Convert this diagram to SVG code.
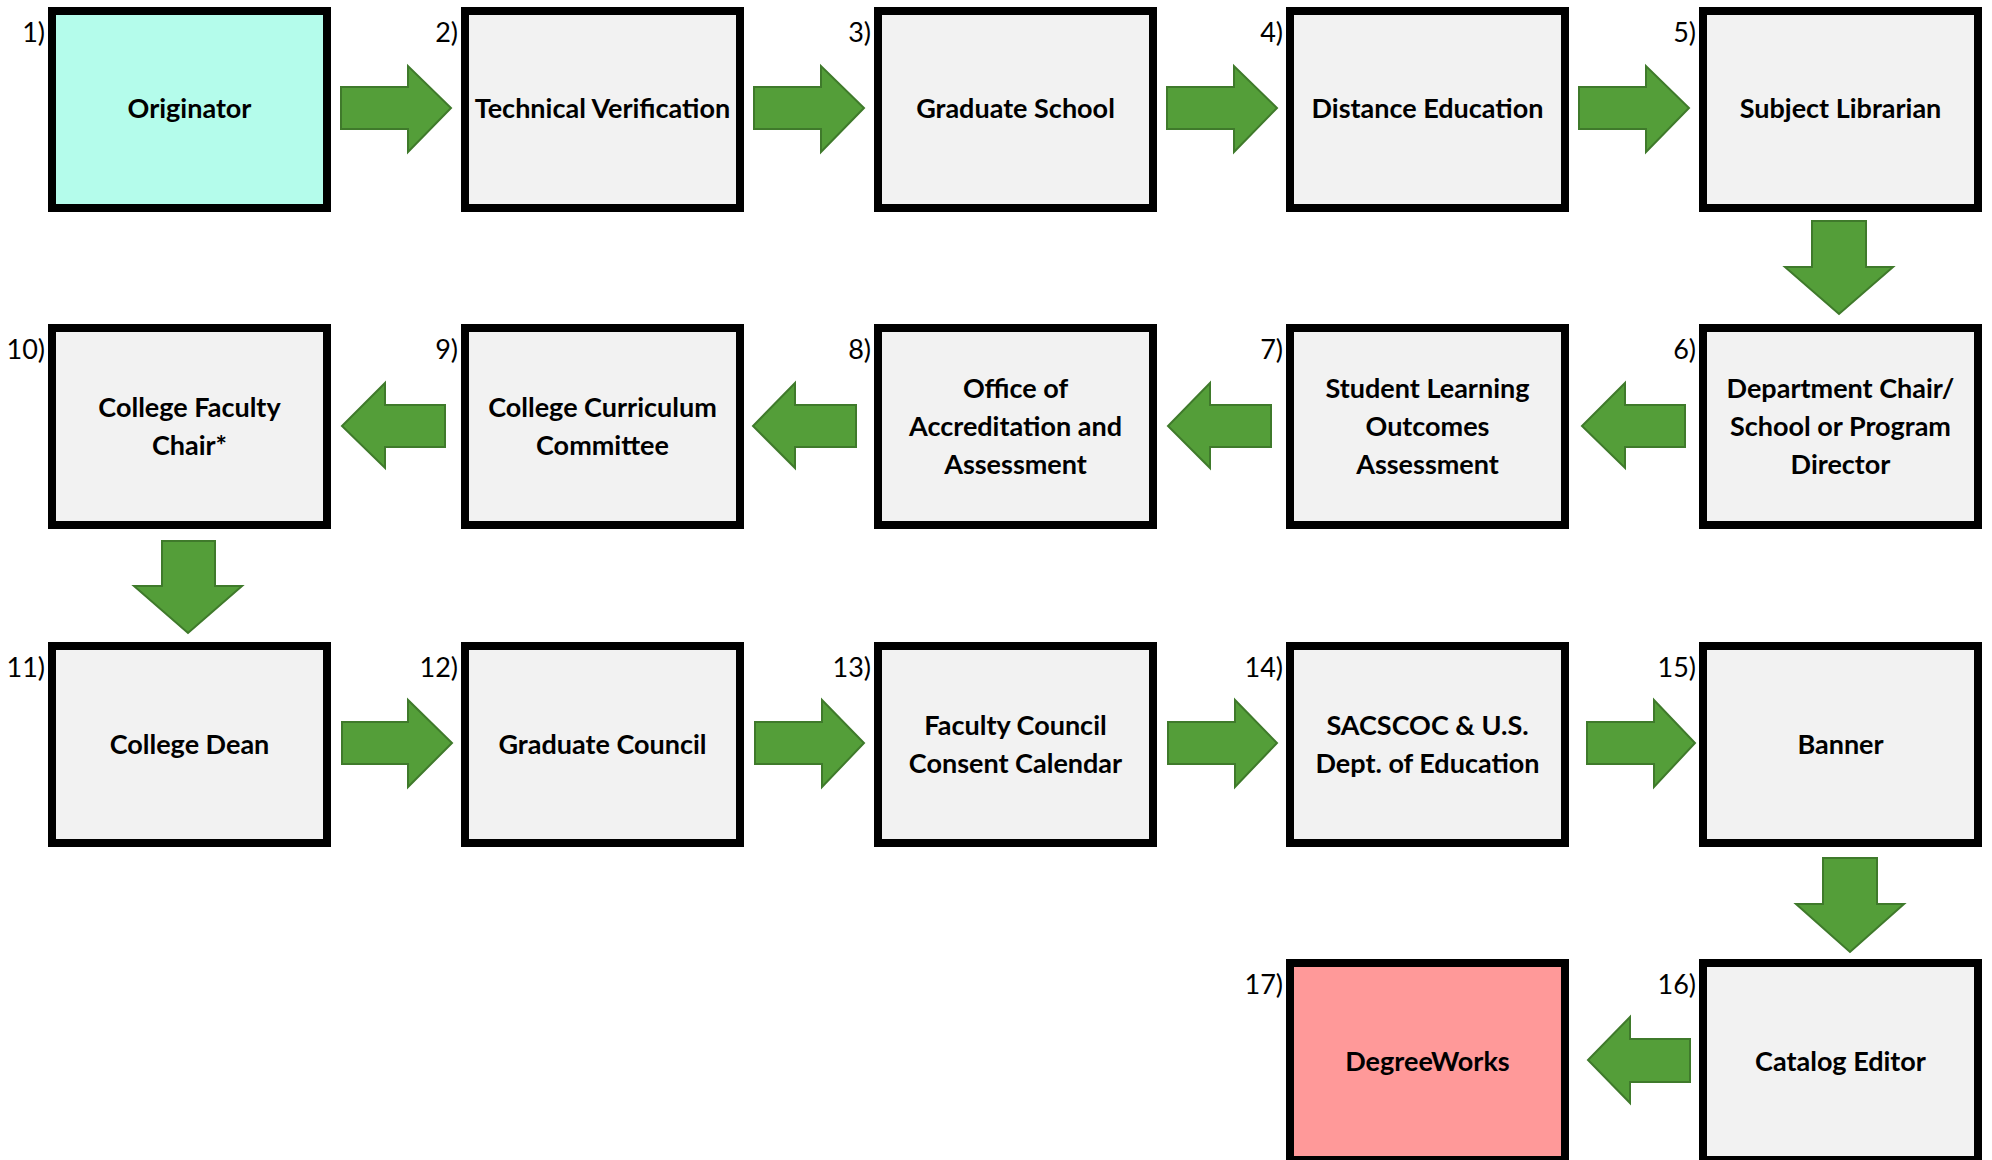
<svg xmlns="http://www.w3.org/2000/svg" width="1992" height="1160" viewBox="0 0 1992 1160">
<style>
.box{stroke:#000;stroke-width:8;fill:#F2F2F2}
.lbl{font-family:Lato,"Liberation Sans",sans-serif;font-weight:bold;font-size:27px;fill:#000;text-anchor:middle}
.num{font-family:Lato,"Liberation Sans",sans-serif;font-size:27px;fill:#000;text-anchor:end}
.arr{fill:#549E39;stroke:#3F7A2B;stroke-width:2;stroke-linejoin:miter}
</style>
<rect width="1992" height="1160" fill="#FFFFFF"/>
<g id="connectors">
<polygon class="arr" points="341,87 408,87 408,66 451,108 408,152 408,129 341,129"/>
<polygon class="arr" points="754,87 821,87 821,66 864,108 821,152 821,129 754,129"/>
<polygon class="arr" points="1167,87 1234,87 1234,66 1277,108 1234,152 1234,129 1167,129"/>
<polygon class="arr" points="1579,87 1646,87 1646,66 1689,108 1646,152 1646,129 1579,129"/>
<polygon class="arr" points="1812,221 1866,221 1866,267 1893,267 1839,314 1785,267 1812,267"/>
<polygon class="arr" points="1685,405 1625,405 1625,383 1582,426 1625,468 1625,447 1685,447"/>
<polygon class="arr" points="1271,405 1210,405 1210,383 1168,426 1210,468 1210,447 1271,447"/>
<polygon class="arr" points="856,405 795,405 795,383 753,426 795,468 795,447 856,447"/>
<polygon class="arr" points="445,405 385,405 385,383 342,426 385,468 385,447 445,447"/>
<polygon class="arr" points="162,541 215,541 215,586 242,586 188,633 134,586 162,586"/>
<polygon class="arr" points="342,722 408,722 408,700 452,743 408,787 408,764 342,764"/>
<polygon class="arr" points="755,722 822,722 822,700 864,743 822,787 822,764 755,764"/>
<polygon class="arr" points="1168,722 1235,722 1235,700 1277,743 1235,787 1235,764 1168,764"/>
<polygon class="arr" points="1587,722 1654,722 1654,700 1695,743 1654,787 1654,764 1587,764"/>
<polygon class="arr" points="1823,858 1877,858 1877,904 1904,904 1850,952 1796,904 1823,904"/>
<polygon class="arr" points="1690,1039 1630,1039 1630,1017 1588,1060 1630,1103 1630,1082 1690,1082"/>
</g>
<g id="n1"><rect class="box" x="52" y="11" width="275" height="197" style="fill:#B4FCEB"/><text class="num" x="45" y="42">1)</text><text class="lbl" x="189.5" y="118">Originator</text></g>
<g id="n2"><rect class="box" x="465" y="11" width="275" height="197"/><text class="num" x="458" y="42">2)</text><text class="lbl" x="602.5" y="118">Technical Verification</text></g>
<g id="n3"><rect class="box" x="878" y="11" width="275" height="197"/><text class="num" x="871" y="42">3)</text><text class="lbl" x="1015.5" y="118">Graduate School</text></g>
<g id="n4"><rect class="box" x="1290" y="11" width="275" height="197"/><text class="num" x="1283" y="42">4)</text><text class="lbl" x="1427.5" y="118">Distance Education</text></g>
<g id="n5"><rect class="box" x="1703" y="11" width="275" height="197"/><text class="num" x="1696" y="42">5)</text><text class="lbl" x="1840.5" y="118">Subject Librarian</text></g>
<g id="n6"><rect class="box" x="1703" y="328" width="275" height="197"/><text class="num" x="1696" y="359">6)</text><text class="lbl" x="1840.5" y="398">Department Chair/</text><text class="lbl" x="1840.5" y="436">School or Program</text><text class="lbl" x="1840.5" y="474">Director</text></g>
<g id="n7"><rect class="box" x="1290" y="328" width="275" height="197"/><text class="num" x="1283" y="359">7)</text><text class="lbl" x="1427.5" y="398">Student Learning</text><text class="lbl" x="1427.5" y="436">Outcomes</text><text class="lbl" x="1427.5" y="474">Assessment</text></g>
<g id="n8"><rect class="box" x="878" y="328" width="275" height="197"/><text class="num" x="871" y="359">8)</text><text class="lbl" x="1015.5" y="398">Office of</text><text class="lbl" x="1015.5" y="436">Accreditation and</text><text class="lbl" x="1015.5" y="474">Assessment</text></g>
<g id="n9"><rect class="box" x="465" y="328" width="275" height="197"/><text class="num" x="458" y="359">9)</text><text class="lbl" x="602.5" y="417">College Curriculum</text><text class="lbl" x="602.5" y="455">Committee</text></g>
<g id="n10"><rect class="box" x="52" y="328" width="275" height="197"/><text class="num" x="45" y="359">10)</text><text class="lbl" x="189.5" y="417">College Faculty</text><text class="lbl" x="189.5" y="455">Chair*</text></g>
<g id="n11"><rect class="box" x="52" y="646" width="275" height="197"/><text class="num" x="45" y="677">11)</text><text class="lbl" x="189.5" y="754">College Dean</text></g>
<g id="n12"><rect class="box" x="465" y="646" width="275" height="197"/><text class="num" x="458" y="677">12)</text><text class="lbl" x="602.5" y="754">Graduate Council</text></g>
<g id="n13"><rect class="box" x="878" y="646" width="275" height="197"/><text class="num" x="871" y="677">13)</text><text class="lbl" x="1015.5" y="735">Faculty Council</text><text class="lbl" x="1015.5" y="773">Consent Calendar</text></g>
<g id="n14"><rect class="box" x="1290" y="646" width="275" height="197"/><text class="num" x="1283" y="677">14)</text><text class="lbl" x="1427.5" y="735">SACSCOC &amp; U.S.</text><text class="lbl" x="1427.5" y="773">Dept. of Education</text></g>
<g id="n15"><rect class="box" x="1703" y="646" width="275" height="197"/><text class="num" x="1696" y="677">15)</text><text class="lbl" x="1840.5" y="754">Banner</text></g>
<g id="n16"><rect class="box" x="1703" y="963" width="275" height="197"/><text class="num" x="1696" y="994">16)</text><text class="lbl" x="1840.5" y="1071">Catalog Editor</text></g>
<g id="n17"><rect class="box" x="1290" y="963" width="275" height="197" style="fill:#FF9999"/><text class="num" x="1283" y="994">17)</text><text class="lbl" x="1427.5" y="1071">DegreeWorks</text></g>
</svg>
